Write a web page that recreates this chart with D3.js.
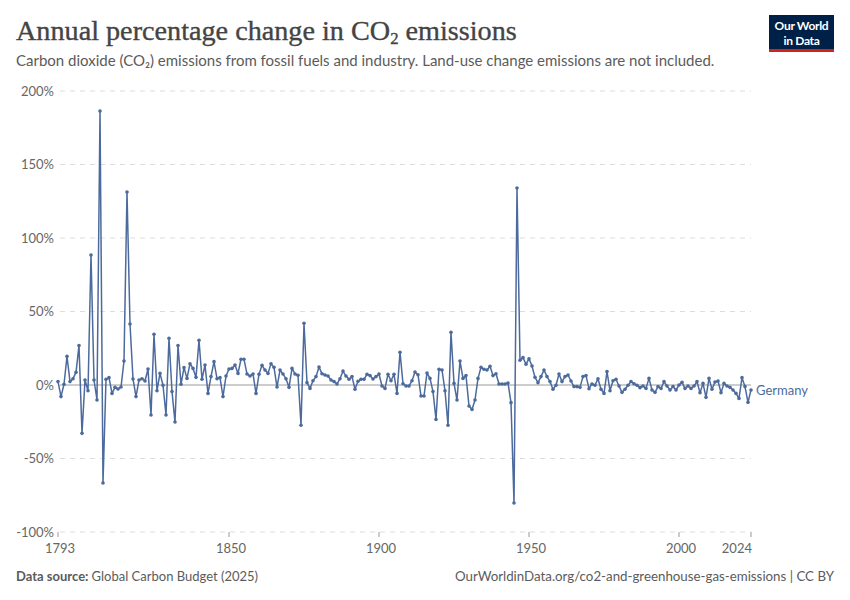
<!DOCTYPE html>
<html>
<head>
<meta charset="utf-8">
<script src="https://cdn.jsdelivr.net/npm/d3@7"></script>
<style>
  body { margin: 0; background: #fff; }
  svg { font-family: Lato, "Noto Sans", sans-serif; }
</style>
</head>
<body>
<svg id="chart" width="850" height="600"></svg>
<script>
// Germany, annual % change in CO2 emissions, 1793-2024
const startYear = 1793;
const endYear = 2024;
const co2Change = [
  2.3, -7.9, 0.5, 19.5, 2.3, 4.3, 8.6, 26.8, -32.9, 3.4,          // 1793-1802
  -3.9, 88.4, 3.4, -10.2, 186.4, -66.7, 3.9, 5.0, -5.7, -1.6,      // 1803-1812
  -2.7, -1.4, 16.3, 131.3, 41.5, 4.1, -7.9, 3.4, 4.3, 2.7,         // 1813-1822
  10.9, -20.4, 34.5, -3.9, 7.9, -0.2, -20.4, 31.8, -4.5, -25.2,    // 1823-1832
  26.8, 0.5, 11.8, 4.5, 14.5, 11.3, 5.2, 30.4, 3.9, 13.6,          // 1833-1842
  -5.7, 5.7, 15.9, 4.3, 5.0, -7.9, 6.1, 10.9, 11.3, 13.6,          // 1843-1852
  7.9, 17.5, 17.5, 7.5, 6.1, 7.5, -5.7, 7.3, 13.4, 10.2,           // 1853-1862
  7.9, 14.5, 12.0, -1.4, 10.2, 7.5, 4.2, -1.6, 11.3, 7.5,          // 1863-1872
  6.6, -27.4, 42.0, 1.6, -2.3, 2.9, 5.7, 12.2, 7.7, 6.8,           // 1873-1882
  6.1, 3.4, 2.3, 0.7, 4.3, 9.5, 6.1, 3.9, 5.7, -2.9,               // 1883-1892
  2.5, 3.9, 3.9, 7.3, 6.4, 4.1, 5.7, 7.5, -0.7, -2.3,              // 1893-1902
  7.3, 2.9, 7.3, -5.7, 22.2, 0.9, -0.7, -0.7, 2.9, 8.8,            // 1903-1912
  7.0, -7.5, -7.5, 8.2, 4.5, -4.5, -23.4, 10.7, 10.2, -3.9,        // 1913-1922
  -27.4, 35.8, 1.1, -10.2, 16.3, 4.5, 6.4, -14.3, -16.6, -10.2,    // 1923-1932
  4.5, 12.0, 10.7, 10.2, 12.7, 6.4, 7.7, 0.7, 0.7, 0.7,            // 1933-1942
  1.4, -12.0, -80.3, 134.0, 16.8, 18.6, 14.1, 17.9, 12.9, 5.2,     // 1943-1952
  1.6, 5.7, 10.2, 5.7, 2.3, -2.9, -0.2, 7.5, 2.3, 5.7,             // 1953-1962
  6.8, 2.7, -1.1, -1.1, -1.6, 5.7, 6.4, -2.5, 0.7, -0.2,           // 1963-1972
  4.3, -2.9, -5.7, 9.1, -3.9, 2.9, 3.9, -0.7, -5.0, -2.9,          // 1973-1982
  -0.2, 2.3, 0.9, -0.2, -1.8, -0.7, -2.3, 4.5, -3.4, -5.0,         // 1983-1992
  -1.1, -2.3, 2.3, -0.7, -3.4, -1.1, -3.4, 0.0, 1.8, -2.3,         // 1993-2002
  -0.7, -2.3, -0.7, 2.3, -5.2, 1.1, -8.4, 4.5, -2.9, 2.0,          // 2003-2012
  2.7, -5.2, 1.1, -0.7, -1.6, -3.4, -5.7, -9.1, 5.0, -1.1,         // 2013-2022
  -11.8, -3.4                                                      // 2023-2024
];
const seriesName = "Germany";
const yTicks = [-100, -50, 0, 50, 100, 150, 200];
const xTicks = [1793, 1850, 1900, 1950, 2000, 2024];

const data = co2Change.map((v, i) => ({ year: startYear + i, value: v }));

const svg = d3.select("#chart");
const margin = { top: 91, right: 99, bottom: 68, left: 58 };
const width = 850, height = 600;
const blue = "#4c6a9c";

const x = d3.scaleLinear()
  .domain([startYear, endYear])
  .range([margin.left, width - margin.right]);
const y = d3.scaleLinear()
  .domain([-100, 200])
  .range([height - margin.bottom, margin.top]);

// title, fitted to the width it has in the original
const title = svg.append("text")
  .attr("x", 16).attr("y", 40)
  .attr("fill", "#444")
  .style("font-family", "'Liberation Serif', 'DejaVu Serif', serif")
  .style("font-size", "27px")
  .style("stroke", "#444")
  .style("stroke-width", "0.35px");
title.append("tspan").text("Annual percentage change in CO");
title.append("tspan").attr("dy", 4).style("font-size", "16px").text("2");
title.append("tspan").attr("dy", -4).text(" emissions");
const tw = title.node().getComputedTextLength();
title.attr("transform", `translate(16,0) scale(${501 / tw},1) translate(-16,0)`);

svg.append("text")
  .attr("x", 16).attr("y", 66)
  .attr("fill", "#5b5b5b")
  .style("font-size", "15px")
  .text("Carbon dioxide (CO\u2082) emissions from fossil fuels and industry. Land-use change emissions are not included.");

// logo
const logo = svg.append("g").attr("transform", "translate(769,15)");
logo.append("rect").attr("width", 65).attr("height", 37).attr("fill", "#002147");
logo.append("rect").attr("y", 34).attr("width", 65).attr("height", 3).attr("fill", "#ce261e");
logo.append("text").attr("x", 32.5).attr("y", 15).attr("text-anchor", "middle")
  .attr("fill", "#fff").style("font-size", "12px").style("font-weight", 700)
  .style("letter-spacing", "-0.3px").text("Our World");
logo.append("text").attr("x", 32.5).attr("y", 30).attr("text-anchor", "middle")
  .attr("fill", "#fff").style("font-size", "12px").style("font-weight", 700)
  .style("letter-spacing", "-0.3px").text("in Data");

// grid + y axis labels
const yAxis = svg.append("g");
yAxis.selectAll("line")
  .data(yTicks)
  .enter()
  .append("line")
  .attr("x1", margin.left + 2)
  .attr("x2", width - margin.right)
  .attr("y1", (d) => y(d))
  .attr("y2", (d) => y(d))
  .attr("stroke", (d) => (d === 0 ? "#9a9a9a" : "#dddddd"))
  .attr("stroke-dasharray", (d) => (d === 0 ? null : "5,5"));
yAxis.selectAll("text")
  .data(yTicks)
  .enter()
  .append("text")
  .attr("x", 54)
  .attr("y", (d) => y(d) + 4.5)
  .attr("text-anchor", "end")
  .attr("fill", "#666")
  .style("font-size", "13px")
  .text((d) => d + "%");

// x axis
const xAxis = svg.append("g");
xAxis.selectAll("line")
  .data(xTicks)
  .enter()
  .append("line")
  .attr("x1", (d) => x(d)).attr("x2", (d) => x(d))
  .attr("y1", y(-100)).attr("y2", y(-100) + 5)
  .attr("stroke", "#999");
xAxis.selectAll("text")
  .data(xTicks)
  .enter()
  .append("text")
  .attr("x", (d) => (d === endYear ? x(d) + 1 : x(d) + 2))
  .attr("y", 553)
  .attr("text-anchor", (d) => (d === endYear ? "end" : "middle"))
  .attr("fill", "#666")
  .style("font-size", "13px")
  .text((d) => d);

// line + points
const line = d3.line()
  .x((d) => x(d.year))
  .y((d) => y(d.value));

svg.append("path")
  .datum(data)
  .attr("fill", "none")
  .attr("stroke", blue)
  .attr("stroke-width", 1.5)
  .attr("stroke-linejoin", "round")
  .attr("d", line);

svg.append("g")
  .selectAll("circle")
  .data(data)
  .enter()
  .append("circle")
  .attr("cx", (d) => x(d.year))
  .attr("cy", (d) => y(d.value))
  .attr("r", 1.8)
  .attr("fill", blue);

const last = data[data.length - 1];
svg.append("text")
  .attr("x", x(last.year) + 5)
  .attr("y", y(last.value) + 5.5)
  .attr("fill", blue)
  .style("font-size", "13px")
  .text(seriesName);

// footer
const src = svg.append("text")
  .attr("x", 16).attr("y", 581)
  .attr("fill", "#5b5b5b")
  .style("font-size", "13px");
src.append("tspan").style("font-weight", 700).text("Data source: ");
src.append("tspan").text("Global Carbon Budget (2025)");

svg.append("text")
  .attr("x", 834).attr("y", 581)
  .attr("text-anchor", "end")
  .attr("fill", "#5b5b5b")
  .style("font-size", "13.3px")
  .text("OurWorldinData.org/co2-and-greenhouse-gas-emissions | CC BY");
</script>
</body>
</html>
